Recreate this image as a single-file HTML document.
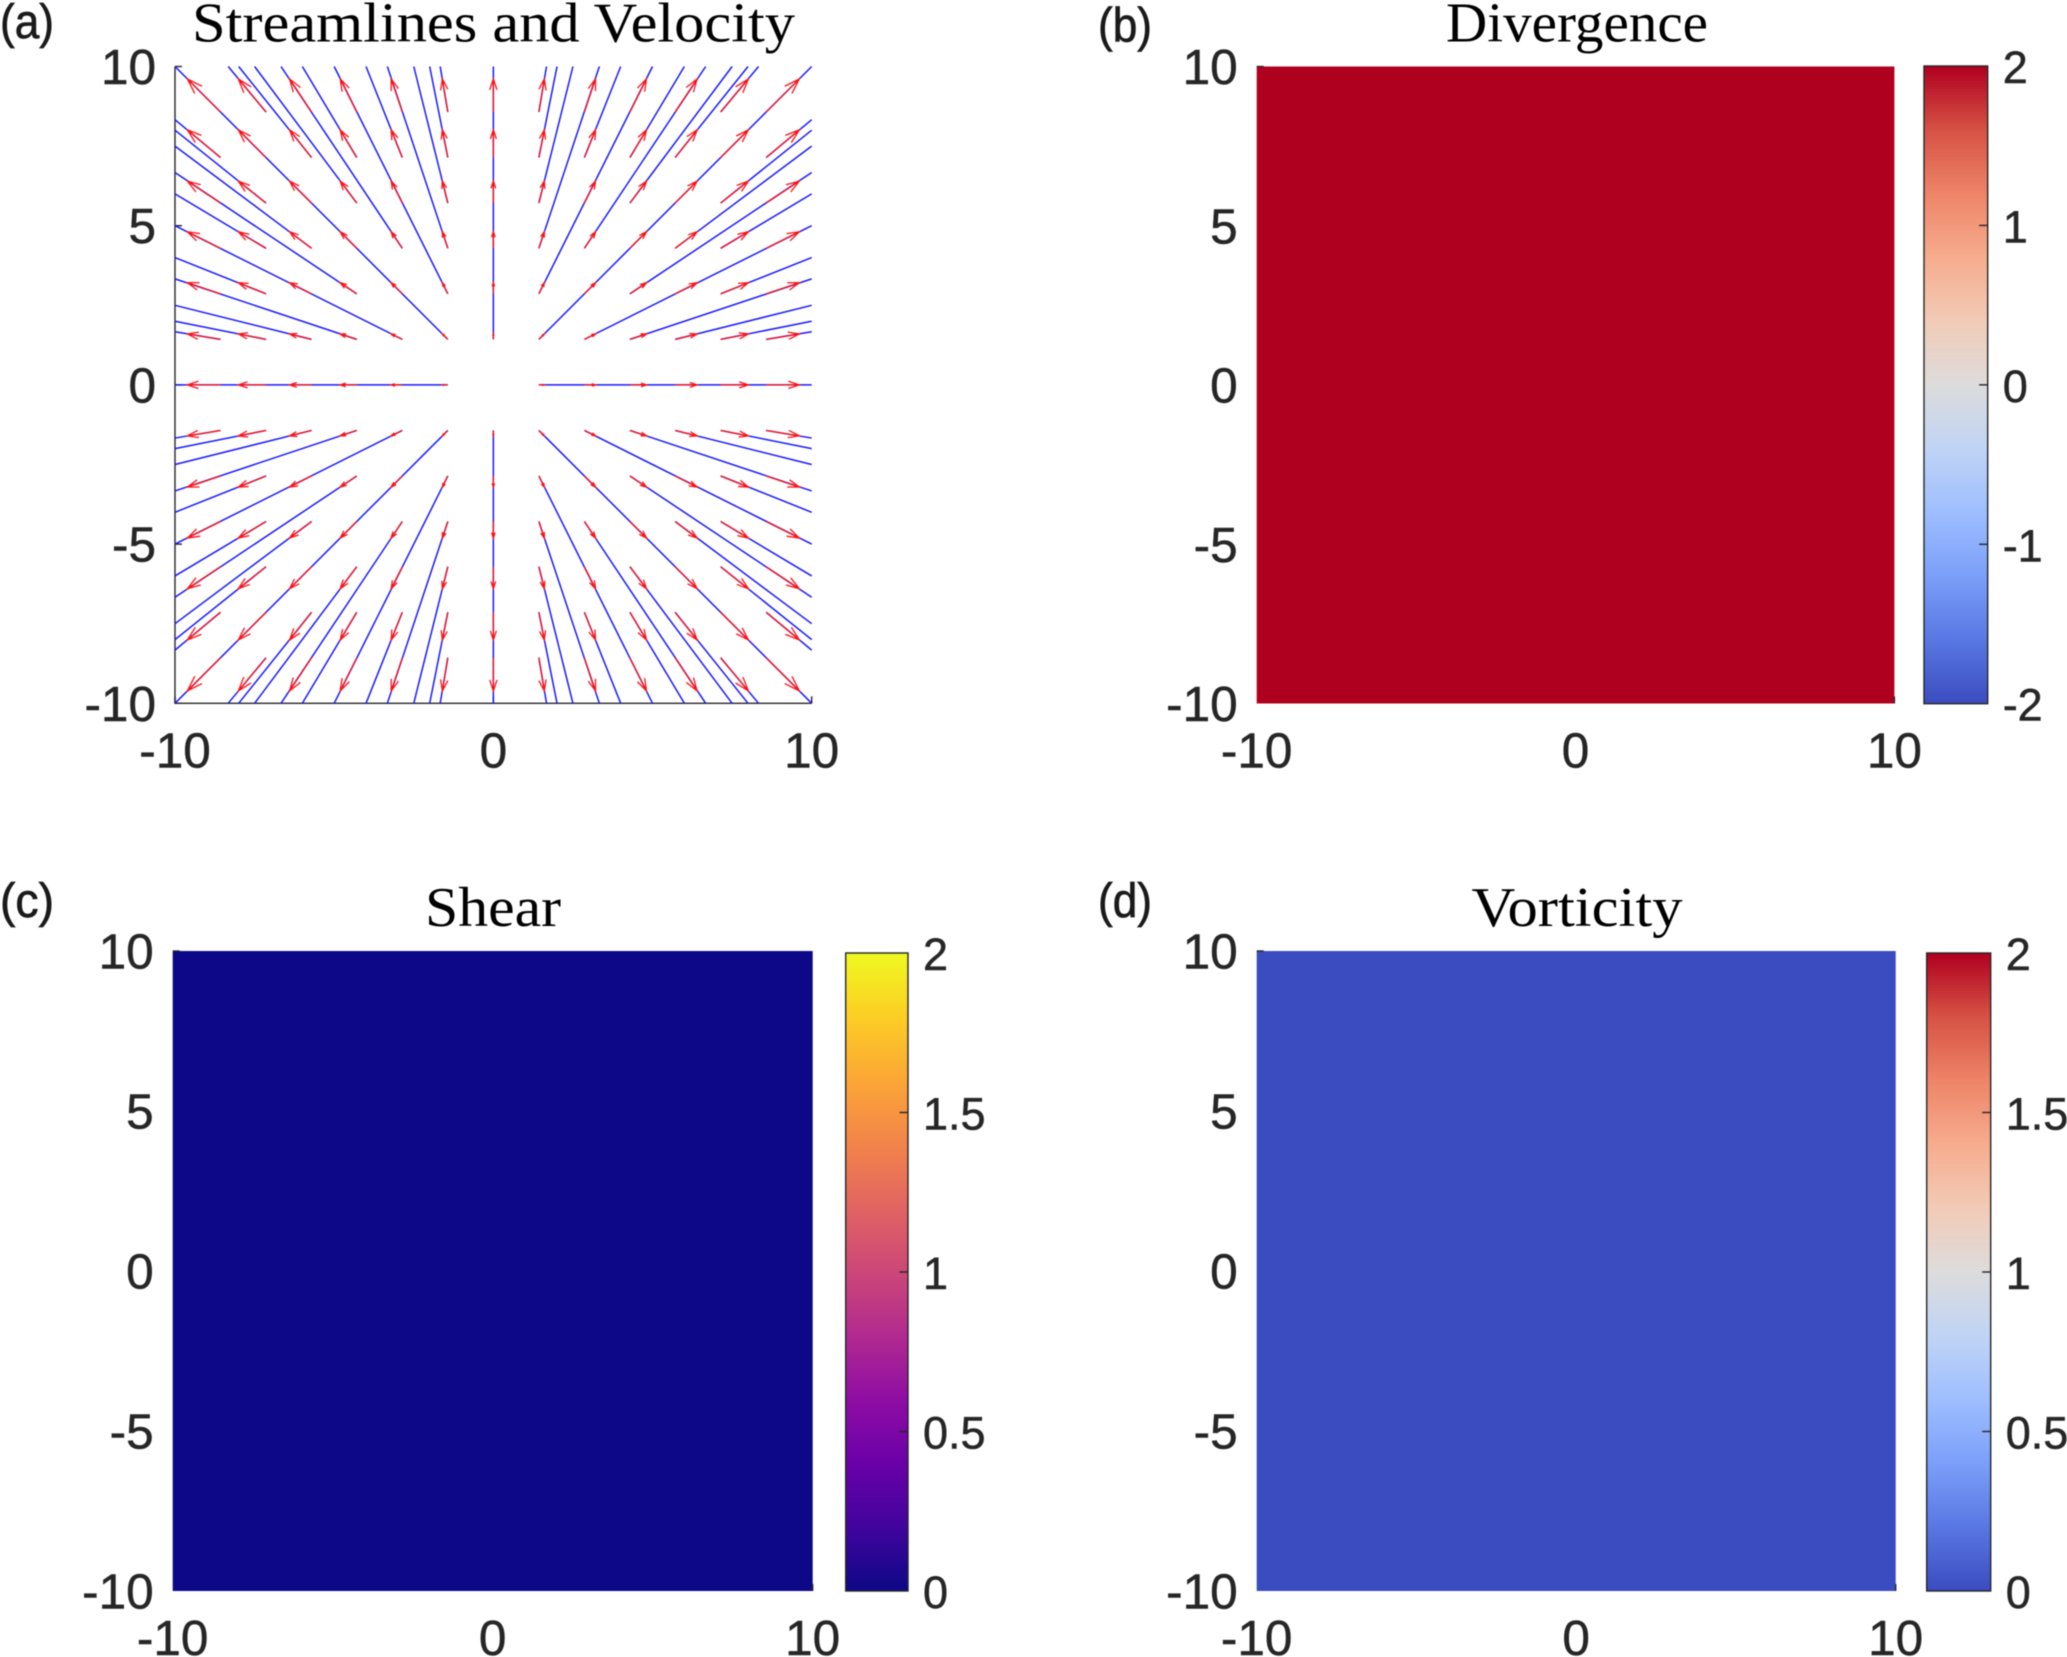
<!DOCTYPE html>
<html lang="en">
<head>
<meta charset="utf-8">
<title>Streamlines, Divergence, Shear and Vorticity</title>
<style>
html,body{margin:0;padding:0;background:#fff;}
svg{display:block;}
#chart-root{filter:blur(0.45px);}
.tick-label{font-family:"Liberation Sans",Arial,sans-serif;fill:#262626;stroke:#262626;stroke-width:0.5px;}
.panel-letter{font-family:"Liberation Sans",Arial,sans-serif;fill:#1a1a1a;stroke:#1a1a1a;stroke-width:0.7px;}
.panel-title{font-family:"Liberation Serif","Times New Roman",serif;fill:#000;}
</style>
</head>
<body>
<svg id="figure" xmlns="http://www.w3.org/2000/svg" width="2067" height="1657" viewBox="0 0 2067 1657">
  <rect x="0" y="0" width="2067" height="1657" fill="#fff"/>
  <defs id="defs"></defs>
  <g id="chart-root"></g>
</svg>
<script>
// ---------- Data ----------
const xTickValues = [-10, 0, 10];
const yTickValues = [-10, -5, 0, 5, 10];
const xTickLabels = ['-10', '0', '10'];
const yTickLabels = ['-10', '-5', '0', '5', '10'];

const quiverX = [-8.57, -7.14, -5.71, -4.29, -2.86, -1.43, 0, 1.43, 2.86, 4.29, 5.71, 7.14, 8.57];
const quiverY = [-8.57, -7.14, -5.71, -4.29, -2.86, -1.43, 0, 1.43, 2.86, 4.29, 5.71, 7.14, 8.57];
const quiverU = [-1.04, -0.87, -0.69, -0.52, -0.35, -0.17, 0, 0.17, 0.35, 0.52, 0.69, 0.87, 1.04];
const quiverV = [-1.04, -0.87, -0.69, -0.52, -0.35, -0.17, 0, 0.17, 0.35, 0.52, 0.69, 0.87, 1.04];

// First-quadrant streamlines; the other three quadrants mirror them.
const streamStartX = [1.43, 1.43, 1.43, 1.43, 2.86, 1.43, 4.29, 2.86, 4.29, 5.71, 7.14, 1.43, 8.57, 7.14, 5.71, 4.29, 7.14, 2.86, 7.14, 4.29, 5.71, 7.14, 8.57, 1.43, 0];
const streamStartY = [8.57, 7.14, 5.71, 4.29, 7.14, 2.86, 7.14, 4.29, 5.71, 7.14, 8.57, 1.43, 1.43, 1.43, 1.43, 1.43, 2.86, 1.43, 4.29, 2.86, 4.29, 5.71, 7.14, 0, 1.43];
const streamEndX = [1.67, 2, 2.5, 3.33, 4, 5, 6, 6.67, 7.5, 8, 8.33, 10, 10, 10, 10, 10, 10, 10, 10, 10, 10, 10, 10, 10, 0];
const streamEndY = [10, 10, 10, 10, 10, 10, 10, 10, 10, 10, 10, 10, 1.67, 2, 2.5, 3.33, 4, 5, 6, 6.67, 7.5, 8, 8.33, 0, 10];

const divergenceField = [2];
const shearField = [0];
const vorticityField = [0];

const divergenceBarTicks = [-2, -1, 0, 1, 2];
const divergenceBarLabels = ['-2', '-1', '0', '1', '2'];
const positiveBarTicks = [0, 0.5, 1, 1.5, 2];
const positiveBarLabels = ['0', '0.5', '1', '1.5', '2'];

const coolwarmStops = ['#3b4cc0', '#5977e3', '#7b9ff9', '#9ebeff', '#c0d4f5', '#dddcdc', '#f2cbb7', '#f7ac8e', '#ee8468', '#d65244', '#b00020'];
const plasmaStops = ['#0d0887', '#41049d', '#6a00a8', '#8f0da4', '#b12a90', '#cc4778', '#e16462', '#f2844b', '#fca636', '#fcce25', '#f0f921'];

// ---------- Helpers ----------
const NS = 'http://www.w3.org/2000/svg';
const root = document.getElementById('chart-root');
const defs = document.getElementById('defs');

function make(tag, attrs, parent) {
  const el = document.createElementNS(NS, tag);
  for (const k in attrs) el.setAttribute(k, attrs[k]);
  (parent || root).appendChild(el);
  return el;
}
function scaleLinear(d0, d1, r0, r1) {
  return v => r0 + (v - d0) / (d1 - d0) * (r1 - r0);
}
function colorAt(stops, t) {
  const p = Math.max(0, Math.min(1, t)) * (stops.length - 1);
  const i = Math.min(Math.floor(p), stops.length - 2);
  const f = p - i;
  const a = parseInt(stops[i].slice(1), 16), b = parseInt(stops[i + 1].slice(1), 16);
  const mix = s => Math.round(((a >> s) & 255) * (1 - f) + ((b >> s) & 255) * f);
  return 'rgb(' + mix(16) + ',' + mix(8) + ',' + mix(0) + ')';
}
const INK = '#262626';
const TICK_LEN = 7;

function drawAxes(g, box, sx, sy, edgeOnly) {
  // Spines and ticks. For filled panels only the corner ticks poke out from the colour field.
  if (!edgeOnly) {
    const spines = make('path', {d: 'M' + box.x0 + ' ' + box.y0 + 'V' + box.y1 + 'H' + box.x1, fill: 'none', stroke: INK, 'stroke-width': 1.4}, g);
    
    
  }
  xTickValues.forEach((v, i) => {
    if (!edgeOnly || v === xTickValues[xTickValues.length - 1]) {
      const tick = make('line', {x1: sx(v), x2: sx(v), y1: box.y1, y2: box.y1 - TICK_LEN, stroke: INK, 'stroke-width': 1.4}, g);
      
      
    }
    const label = make('text', {x: sx(v), y: box.y1 + 64, 'text-anchor': 'middle', 'font-size': 49.5, class: 'tick-label'}, g);
    label.textContent = xTickLabels[i];
    
    
  });
  yTickValues.forEach((v, i) => {
    if (!edgeOnly || v === yTickValues[yTickValues.length - 1]) {
      const tick = make('line', {x1: box.x0, x2: box.x0 + TICK_LEN, y1: sy(v), y2: sy(v), stroke: INK, 'stroke-width': 1.4}, g);
      
      
    }
    const label = make('text', {x: box.x0 - 19, y: sy(v) + 17.5, 'text-anchor': 'end', 'font-size': 49.5, class: 'tick-label'}, g);
    label.textContent = yTickLabels[i];
    
    
  });
}

function drawHeader(g, title, titleX, titleY, titleLen, letter, letterX, letterY) {
  const t = make('text', {x: titleX, y: titleY, 'text-anchor': 'middle', 'font-size': 56, textLength: titleLen, lengthAdjust: 'spacingAndGlyphs', class: 'panel-title'}, g);
  t.textContent = title;
  
  
  const l = make('text', {x: letterX, y: letterY, 'font-size': 48, textLength: 54, lengthAdjust: 'spacingAndGlyphs', class: 'panel-letter'}, g);
  l.textContent = letter;
  
  
}

function drawField(g, box, field, stops, vmin, vmax) {
  field.forEach(value => {
    const cell = make('rect', {x: box.x0, y: box.y0, width: box.x1 - box.x0, height: box.y1 - box.y0, fill: colorAt(stops, (value - vmin) / (vmax - vmin))}, g);
    
    
  });
}

function drawColorbar(g, bar, id, stops, ticks, labels, vmin, vmax) {
  const grad = make('linearGradient', {id: id, x1: 0, y1: 1, x2: 0, y2: 0}, defs);
  stops.forEach((c, i) => {
    make('stop', {offset: i / (stops.length - 1), 'stop-color': c}, grad);
  });
  const r = make('rect', {x: bar.x0, y: bar.y0, width: bar.x1 - bar.x0, height: bar.y1 - bar.y0, fill: 'url(#' + id + ')', stroke: INK, 'stroke-width': 1.4}, g);
  
  
  const sc = scaleLinear(vmin, vmax, bar.y1, bar.y0);
  ticks.forEach((v, i) => {
    if (i > 0 && i < ticks.length - 1) {
      const tick = make('line', {x1: bar.x1 - 8.5, x2: bar.x1, y1: sc(v), y2: sc(v), stroke: INK, 'stroke-width': 1.4}, g);
      
      
    }
    const label = make('text', {x: bar.x1 + 15, y: sc(v) + 17, 'font-size': 45, class: 'tick-label'}, g);
    label.textContent = labels[i];
    
    
  });
}

// ---------- Panel (a): streamlines and velocity ----------
(function () {
  const g = make('g', {});
  
  
  const box = {x0: 175, x1: 811.7, y0: 66.5, y1: 703.3};
  const sx = scaleLinear(-10, 10, box.x0, box.x1);
  const sy = scaleLinear(-10, 10, box.y1, box.y0);
  drawHeader(g, 'Streamlines and Velocity', 493.5, 41.7, 603, '(a)', 0, 38);
  drawAxes(g, box, sx, sy, false);

  const seen = new Set();
  [[1, 1], [-1, 1], [-1, -1], [1, -1]].forEach(m => {
    streamStartX.forEach((x, i) => {
      const x0 = x * m[0], y0 = streamStartY[i] * m[1];
      const x1 = streamEndX[i] * m[0], y1 = streamEndY[i] * m[1];
      const key = [x0, y0, x1, y1].map(Math.abs).join() + ':' + Math.sign(x0 + x1) + ':' + Math.sign(y0 + y1);
      if (seen.has(key)) return;
      seen.add(key);
      const line = make('line', {x1: sx(x0), y1: sy(y0), x2: sx(x1), y2: sy(y1), stroke: '#1a1aff', 'stroke-width': 1.5}, g);
      
      
    });
  });

  const ALPHA = 0.33, BETA = 0.33;
  quiverX.forEach((x, c) => {
    quiverY.forEach((y, r) => {
      const u = quiverU[c], v = quiverV[r];
      if (u === 0 && v === 0) return;
      const tx = x + u, ty = y + v;
      const b1x = tx - ALPHA * (u + BETA * v), b1y = ty - ALPHA * (v - BETA * u);
      const b2x = tx - ALPHA * (u - BETA * v), b2y = ty - ALPHA * (v + BETA * u);
      const d = 'M' + sx(x).toFixed(2) + ' ' + sy(y).toFixed(2) + 'L' + sx(tx).toFixed(2) + ' ' + sy(ty).toFixed(2) +
        'M' + sx(b1x).toFixed(2) + ' ' + sy(b1y).toFixed(2) + 'L' + sx(tx).toFixed(2) + ' ' + sy(ty).toFixed(2) +
        'L' + sx(b2x).toFixed(2) + ' ' + sy(b2y).toFixed(2);
      const arrow = make('path', {d: d, fill: 'none', stroke: '#ff1010', 'stroke-width': 1.3}, g);
      
      
    });
  });
})();

// ---------- Panel (b): divergence ----------
(function () {
  const g = make('g', {});
  
  
  const box = {x0: 1256.7, x1: 1894.4, y0: 66.5, y1: 703.5};
  const sx = scaleLinear(-10, 10, box.x0, box.x1);
  const sy = scaleLinear(-10, 10, box.y1, box.y0);
  drawHeader(g, 'Divergence', 1577, 41.7, 262, '(b)', 1098, 41.5);
  drawField(g, box, divergenceField, coolwarmStops, -2, 2);
  drawAxes(g, box, sx, sy, true);
  drawColorbar(g, {x0: 1924, x1: 1987.7, y0: 66, y1: 703.7}, 'cmap-divergence', coolwarmStops, divergenceBarTicks, divergenceBarLabels, -2, 2);
})();

// ---------- Panel (c): shear ----------
(function () {
  const g = make('g', {});
  
  
  const box = {x0: 172.7, x1: 812.7, y0: 951, y1: 1591};
  const sx = scaleLinear(-10, 10, box.x0, box.x1);
  const sy = scaleLinear(-10, 10, box.y1, box.y0);
  drawHeader(g, 'Shear', 493, 926, 136, '(c)', 0, 917);
  drawField(g, box, shearField, plasmaStops, 0, 2);
  drawAxes(g, box, sx, sy, true);
  drawColorbar(g, {x0: 845.7, x1: 908, y0: 953, y1: 1591}, 'cmap-shear', plasmaStops, positiveBarTicks, positiveBarLabels, 0, 2);
})();

// ---------- Panel (d): vorticity ----------
(function () {
  const g = make('g', {});
  
  
  const box = {x0: 1256.7, x1: 1895.7, y0: 951, y1: 1591};
  const sx = scaleLinear(-10, 10, box.x0, box.x1);
  const sy = scaleLinear(-10, 10, box.y1, box.y0);
  drawHeader(g, 'Vorticity', 1577, 926, 211, '(d)', 1098, 917);
  drawField(g, box, vorticityField, coolwarmStops, 0, 2);
  drawAxes(g, box, sx, sy, true);
  drawColorbar(g, {x0: 1926.7, x1: 1990.7, y0: 953, y1: 1591}, 'cmap-vorticity', coolwarmStops, positiveBarTicks, positiveBarLabels, 0, 2);
})();
</script>
</body>
</html>
